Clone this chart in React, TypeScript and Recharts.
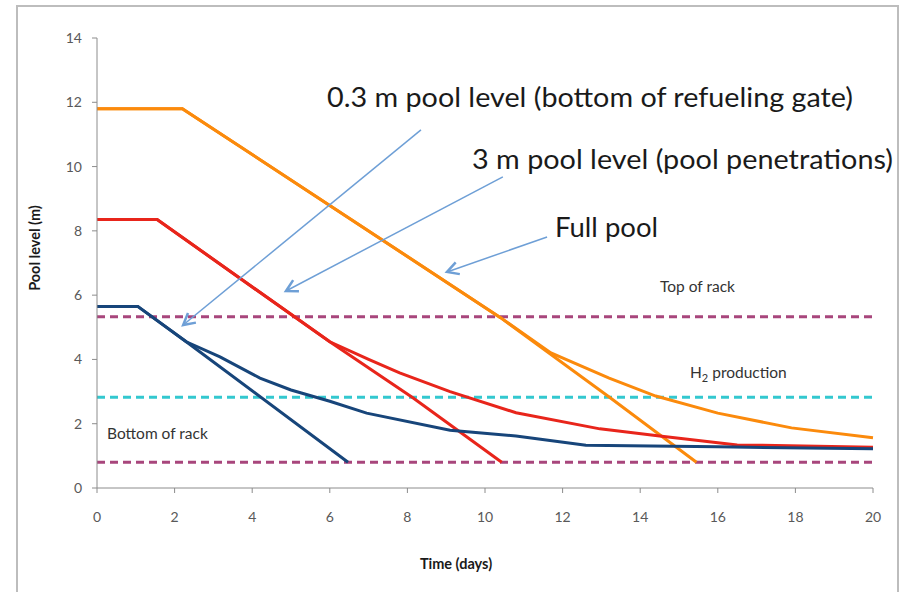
import { LineChart, Line, XAxis, YAxis, ReferenceLine } from 'recharts'

type Pt = { day: number; level: number }

// full pool scenario (orange)
const fullPoolLinear: Pt[] = [
  { day: 0, level: 11.8 },
  { day: 2.2, level: 11.8 },
  { day: 10.4, level: 5.3 },
  { day: 13.2, level: 2.83 },
  { day: 15.45, level: 0.8 },
]
const fullPoolCurve: Pt[] = [
  { day: 0, level: 11.8 },
  { day: 2.2, level: 11.8 },
  { day: 10.4, level: 5.3 },
  { day: 11.7, level: 4.2 },
  { day: 13.2, level: 3.42 },
  { day: 14.4, level: 2.86 },
  { day: 16, level: 2.33 },
  { day: 17.9, level: 1.87 },
  { day: 20, level: 1.56 },
]

// 3 m pool level (red)
const penetrationsLinear: Pt[] = [
  { day: 0, level: 8.35 },
  { day: 1.55, level: 8.35 },
  { day: 6, level: 4.55 },
  { day: 8.15, level: 2.8 },
  { day: 10.43, level: 0.8 },
]
const penetrationsCurve: Pt[] = [
  { day: 0, level: 8.35 },
  { day: 1.55, level: 8.35 },
  { day: 6, level: 4.55 },
  { day: 7, level: 4.0 },
  { day: 7.8, level: 3.58 },
  { day: 9.1, level: 3.0 },
  { day: 10.8, level: 2.34 },
  { day: 12.96, level: 1.84 },
  { day: 14.5, level: 1.62 },
  { day: 16.5, level: 1.34 },
  { day: 20, level: 1.27 },
]

// 0.3 m pool level (blue)
const gateLinear: Pt[] = [
  { day: 0, level: 5.65 },
  { day: 1.05, level: 5.65 },
  { day: 2.3, level: 4.55 },
  { day: 6.47, level: 0.8 },
]
const gateCurve: Pt[] = [
  { day: 0, level: 5.65 },
  { day: 1.05, level: 5.65 },
  { day: 2.3, level: 4.55 },
  { day: 3.17, level: 4.08 },
  { day: 4.2, level: 3.42 },
  { day: 5, level: 3.05 },
  { day: 6, level: 2.7 },
  { day: 6.95, level: 2.33 },
  { day: 9.1, level: 1.8 },
  { day: 10.8, level: 1.62 },
  { day: 12.6, level: 1.33 },
  { day: 16, level: 1.28 },
  { day: 20, level: 1.22 },
]

const xTicks = [0, 2, 4, 6, 8, 10, 12, 14, 16, 18, 20]
const yTicks = [0, 2, 4, 6, 8, 10, 12, 14]

const topOfRack = 5.33
const h2Production = 2.82
const bottomOfRack = 0.8

// annotation arrows, [from, tip] in chart units
const arrows = [
  [{ x: 8.35, y: 11.14 }, { x: 2.22, y: 5.07 }],
  [{ x: 10.46, y: 9.68 }, { x: 4.87, y: 6.13 }],
  [{ x: 11.6, y: 7.81 }, { x: 9.02, y: 6.72 }],
]

const ORANGE = '#fb8a0c'
const RED = '#e8251b'
const BLUE = '#17457a'
const PURPLE = '#a8467c'
const CYAN = '#33c8cf'
const ARROW = '#6e9fd6'
const FONT = 'Lato, "Open Sans", sans-serif'

function Arrow(props: any) {
  const { x1, y1, x2, y2 } = props
  const ang = Math.atan2(y2 - y1, x2 - x1)
  const len = 13
  const spread = 0.5
  const ax = x2 - len * Math.cos(ang - spread)
  const ay = y2 - len * Math.sin(ang - spread)
  const bx = x2 - len * Math.cos(ang + spread)
  const by = y2 - len * Math.sin(ang + spread)
  return (
    <g>
      <line x1={x1} y1={y1} x2={x2} y2={y2} stroke={ARROW} strokeWidth={1.5} />
      <polyline
        points={`${ax},${ay} ${x2},${y2} ${bx},${by}`}
        fill="none"
        stroke={ARROW}
        strokeWidth={2.5}
      />
    </g>
  )
}

export default function App() {
  return (
    <div style={{ position: 'absolute', left: 0, top: 0, width: 901, height: 592, background: '#fff' }}>
      <LineChart width={901} height={592} margin={{ top: 38, right: 28, bottom: 0, left: 0 }}>
        <XAxis
          dataKey="day"
          type="number"
          domain={[0, 20]}
          ticks={xTicks}
          allowDuplicatedCategory={false}
          height={104}
          stroke="#8c8c8c"
          tickSize={5}
          tickMargin={19}
          tick={{ fill: '#595959', fontSize: 14, fontFamily: FONT }}
        />
        <YAxis
          type="number"
          domain={[0, 14]}
          ticks={yTicks}
          width={97}
          stroke="#8c8c8c"
          tickSize={5}
          tickMargin={10}
          tick={{ fill: '#595959', fontSize: 14, fontFamily: FONT }}
        />
        <ReferenceLine y={topOfRack} stroke={PURPLE} strokeWidth={3} strokeDasharray="8 5" />
        <ReferenceLine y={h2Production} stroke={CYAN} strokeWidth={3} strokeDasharray="8 5" />
        <ReferenceLine y={bottomOfRack} stroke={PURPLE} strokeWidth={3} strokeDasharray="8 5" />

        <Line data={fullPoolCurve} dataKey="level" type="linear" stroke={ORANGE} strokeWidth={3} dot={false} isAnimationActive={false} />
        <Line data={fullPoolLinear} dataKey="level" type="linear" stroke={ORANGE} strokeWidth={3} dot={false} isAnimationActive={false} />
        <Line data={penetrationsCurve} dataKey="level" type="linear" stroke={RED} strokeWidth={3} dot={false} isAnimationActive={false} />
        <Line data={penetrationsLinear} dataKey="level" type="linear" stroke={RED} strokeWidth={3} dot={false} isAnimationActive={false} />
        <Line data={gateCurve} dataKey="level" type="linear" stroke={BLUE} strokeWidth={3} dot={false} isAnimationActive={false} />
        <Line data={gateLinear} dataKey="level" type="linear" stroke={BLUE} strokeWidth={3} dot={false} isAnimationActive={false} />

        {arrows.map((seg, i) => (
          <ReferenceLine key={i} segment={seg} shape={Arrow} ifOverflow="visible" />
        ))}
      </LineChart>

      <svg
        width={901}
        height={592}
        style={{ position: 'absolute', left: 0, top: 0, pointerEvents: 'none' }}
      >
        <polyline points="17,600 17,6 898,6 898,600" fill="none" stroke="#bdbdbd" strokeWidth={2} />
        <g fontFamily={FONT} fill="#1a1a1a">
          <text x={327} y={107} fontSize={27} textLength={526} lengthAdjust="spacingAndGlyphs">
            0.3 m pool level (bottom of refueling gate)
          </text>
          <text x={472} y={169} fontSize={27} textLength={421} lengthAdjust="spacingAndGlyphs">
            3 m pool level (pool penetrations)
          </text>
          <text x={555} y={237} fontSize={27} textLength={103} lengthAdjust="spacingAndGlyphs">
            Full pool
          </text>
        </g>
        <g fontFamily={FONT} fill="#333" fontSize={15.5}>
          <text x={660} y={292}>Top of rack</text>
          <text x={690} y={378}>
            H<tspan fontSize={11} dy={4}>2</tspan>
            <tspan dy={-4}> production</tspan>
          </text>
          <text x={107} y={439}>Bottom of rack</text>
        </g>
        <g fontFamily={FONT} fill="#1a1a1a" fontSize={14.5} fontWeight="bold">
          <text x={456} y={569} textAnchor="middle">Time (days)</text>
          <text x={0} y={0} textAnchor="middle" transform="translate(40,248) rotate(-90)">
            Pool level (m)
          </text>
        </g>
      </svg>
    </div>
  )
}
